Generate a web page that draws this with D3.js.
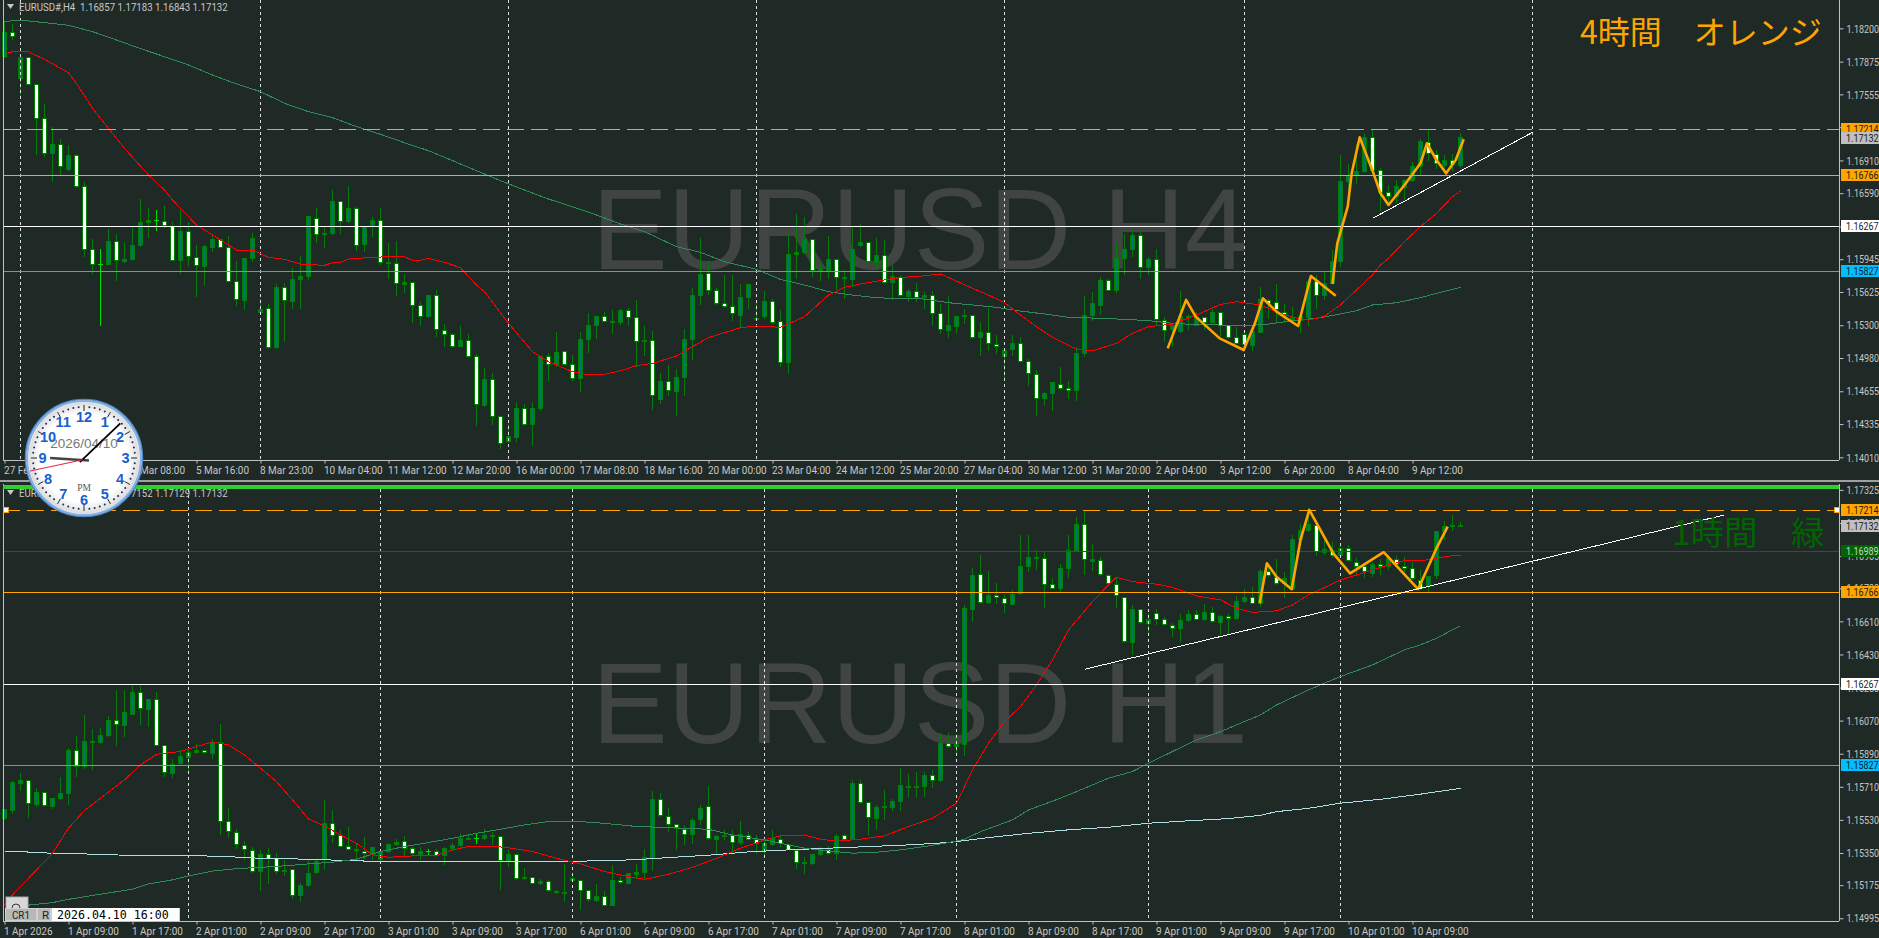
<!DOCTYPE html>
<html><head><meta charset="utf-8">
<style>html,body{margin:0;padding:0;background:#1f2925;overflow:hidden}svg{display:block}
text{font-family:"Roboto",sans-serif}</style>
<script src="https://cdn.jsdelivr.net/npm/d3@7/dist/d3.min.js"></script></head><body><div id="c"></div>
<script>
// All candle values are [open, high, low, close] in points (1 point = 0.00001)
const h4Candles=[[117923,118275,117917,118161],[118161,118249,118096,118119],[117712,117923,117549,117917],[117917,117923,117647,117653],[117650,117650,116963,117321],[117321,117468,116947,116979],[116979,117240,116702,117067],[117067,117126,116768,116855],[116823,117061,116816,116960],[116960,116979,116647,116654],
[116654,116702,115976,116041],[116041,116152,115801,115895],[115895,116051,115296,115895],[115895,116247,115889,116116],[116116,116198,115735,115928],[115921,116116,115915,115944],[115944,116263,115937,116077],[116077,116540,116074,116305],[116305,116452,116159,116328],[116325,116432,116224,116325],
[116312,116465,116253,116279],[116263,116312,115931,115937],[115937,116432,115807,116214],[116214,116312,115879,115967],[115960,116084,115579,115879],[115872,116084,115687,116068],[116061,116198,116019,116139],[116133,116139,116055,116061],[116055,116178,115726,115732],[115732,115937,115494,115547],
[115540,115963,115449,115954],[115954,116208,115921,116149],[115423,115563,115416,115449],[115462,115514,115074,115084],[115078,115709,115071,115670],[115667,115716,115140,115537],[115530,115866,115459,115748],[115748,115986,115465,115778],[115775,116361,115748,116361],[116341,116452,116107,116191],
[116185,116263,116055,116198],[116195,116628,116191,116510],[116510,116523,116198,116315],[116312,116667,116305,116442],[116442,116458,116028,116081],[116090,116263,116019,116256],[116263,116361,116165,116328],[116322,116452,115895,115911],[115901,116113,115761,115915],[115901,116123,115595,115709],
[115700,115807,115621,115719],[115719,115726,115325,115494],[115494,115530,115302,115390],[115384,115605,115377,115592],[115592,115651,115188,115254],[115247,115319,115097,115211],[115211,115228,115084,115091],[115097,115293,115091,115153],[115153,115215,114987,114993],[114993,115026,114316,114528],
[114521,114889,114505,114772],[114772,114843,114326,114407],[114407,114407,114098,114147],[114163,114342,114156,114218],[114205,114560,114169,114488],[114488,114531,114316,114332],[114332,114554,114124,114488],[114488,115009,114472,114999],[114993,115035,114765,114912],[114912,115237,114895,115035],
[115042,115052,114912,114918],[114912,115019,114765,114781],[114781,115237,114651,115162],[115156,115423,115032,115296],[115296,115400,115166,115384],[115384,115433,115335,115341],[115325,115449,115221,115338],[115325,115465,115312,115442],[115442,115475,115293,115377],[115374,115547,114895,115140],
[115140,115293,115009,115153],[115149,115244,114479,114615],[114570,114837,114531,114749],[114749,114912,114618,114661],[114651,114879,114417,114791],[114791,115270,114612,115162],[115162,115670,114970,115592],[115592,116159,115498,115797],[115801,115931,115605,115644],[115638,115670,115507,115514],
[115511,115797,115475,115481],[115481,115791,115345,115410],[115394,115703,115286,115573],[115573,115709,115465,115700],[115358,115547,115351,115368],[115384,115638,115368,115534],[115530,115563,115319,115328],[115335,115455,114895,114938],[114938,116198,114830,115993],[115990,116393,115752,116012],
[116012,116367,116002,116136],[116136,116149,115775,115836],[115833,115905,115742,115840],[115833,116172,115758,115944],[115944,115954,115651,115768],[115765,115840,115563,115752],[115748,116263,115677,116041],[116077,116295,116074,116107],[116107,116116,115911,115918],[115915,116159,115846,115980],
[115980,116139,115713,115719],[115716,115889,115547,115775],[115768,115791,115579,115586],[115579,115661,115530,115628],[115628,115719,115530,115573],[115573,115628,115465,115589],[115589,115644,115302,115416],[115413,115514,115221,115254],[115250,115586,115179,115296],[115286,115400,115221,115384],
[115384,115465,115319,115397],[115394,115400,115172,115182],[115182,115335,115003,115231],[115228,115475,115052,115117],[115110,115205,115026,115097],[114993,115058,114781,115052],[115065,115205,115009,115123],[115117,115195,114944,114948],[114944,114977,114716,114824],[114817,114869,114417,114586],
[114586,114651,114521,114635],[114635,114755,114466,114739],[114726,114902,114677,114684],[114680,114758,114586,114667],[114661,115097,114563,115026],[115026,115586,114993,115394],[115394,115628,115351,115514],[115491,115775,115416,115735],[115735,115758,115635,115644],[115635,116100,115618,115954],
[115954,116198,115791,116041],[116041,116247,115976,116178],[116175,116230,115755,115866],[115862,115976,115791,115944],[115941,116051,115302,115358],[115351,115384,115140,115244],[115254,115319,115091,115302],[115237,115635,115231,115384],[115377,115416,115254,115390],[115302,115433,115293,115374],
[115374,115390,115254,115325],[115325,115465,115319,115426],[115423,115433,115188,115302],[115296,115302,115175,115182],[115182,115286,115117,115123],[115208,115221,115058,115110],[115107,115254,115052,115237],[115231,115683,115228,115547],[115537,115563,115368,115514],[115520,115709,115335,115449],
[115429,115514,115325,115400],[115358,115481,115351,115368],[115351,115416,115228,115384],[115377,115758,115293,115726],[115726,115791,115465,115595],[115589,115823,115553,115709],[115709,116041,115703,115924],[115921,116963,115872,116702],[116702,116882,116523,116758],[116764,117077,116680,116803],
[116803,117175,116794,117136],[117136,117214,116810,116816],[116810,116842,116419,116598],[116595,116670,116468,116562],[116556,116719,116501,116654],[116647,116735,116533,116712],[116715,116895,116709,116849],[116849,117126,116768,117093],[117087,117224,116914,116973],[116963,117018,116833,116882],
[116865,116963,116816,116911],[116908,116979,116800,116872],[116857,117183,116843,117132]];
const h1Candles=[[115539,115584,115533,115584],[115581,115742,115566,115735],[115727,115787,115689,115742],[115746,115748,115543,115617],[115613,115708,115602,115680],[115679,115684,115602,115606],[115602,115653,115593,115648],[115646,115766,115642,115675],[115675,115925,115615,115909],[115907,115987,115766,115820],
[115818,116105,115811,115956],[115950,116029,115802,115956],[115950,116032,115947,115989],[115989,116096,115983,116070],[116068,116237,115934,116047],[116045,116237,115983,116116],[116103,116261,116101,116224],[116222,116261,116047,116137],[116132,116186,116038,116186],[116184,116228,115932,115936],
[115934,115941,115766,115786],[115784,115865,115760,115831],[115836,115914,115833,115876],[115871,115911,115798,115898],[115896,115943,115889,115909],[115905,115911,115889,115894],[115893,115974,115862,115952],[115952,116056,115448,115524],[115521,115599,115434,115466],[115459,115485,115372,115394],
[115390,115416,115312,115367],[115363,115385,115244,115251],[115251,115367,115146,115341],[115340,115380,115185,115321],[115318,115354,115240,115252],[115249,115312,115225,115256],[115262,115267,115104,115120],[115120,115191,115086,115173],[115173,115312,115169,115238],[115245,115312,115240,115303],
[115312,115639,115262,115512],[115510,115584,115408,115446],[115443,115476,115385,115388],[115388,115494,115367,115370],[115367,115407,115321,115361],[115358,115439,115318,115345],[115340,115385,115316,115381],[115312,115367,115309,115358],[115358,115407,115354,115398],[115398,115427,115392,115408],
[115410,115447,115336,115376],[115374,115385,115334,115349],[115341,115385,115312,115358],[115358,115376,115340,115358],[115356,115376,115330,115336],[115336,115385,115285,115376],[115372,115407,115363,115390],[115390,115461,115385,115427],[115425,115448,115421,115430],[115427,115454,115399,115427],
[115427,115485,115421,115445],[115439,115466,115394,115445],[115439,115445,115149,115307],[115307,115376,115276,115340],[115340,115349,115204,115209],[115209,115272,115204,115218],[115216,115222,115182,115185],[115182,115213,115178,115195],[115193,115207,115140,115144],[115140,115153,115131,115133],
[115131,115294,115086,115136],[115203,115231,115200,115210],[115198,115204,115040,115147],[115145,115149,115086,115095],[115091,115182,115086,115113],[115113,115144,115062,115066],[115066,115285,115062,115200],[115198,115222,115182,115187],[115185,115244,115182,115240],[115234,115294,115213,115244],
[115244,115372,115213,115327],[115325,115688,115254,115642],[115640,115680,115548,115552],[115548,115599,115466,115503],[115503,115503,115367,115485],[115476,115503,115394,115452],[115448,115543,115399,115528],[115530,115612,115503,115593],[115602,115715,115425,115430],[115425,115448,115349,115439],
[115439,115479,115421,115445],[115445,115476,115352,115408],[115408,115525,115398,115452],[115447,115466,115421,115425],[115421,115448,115349,115403],[115363,115439,115340,115403],[115394,115476,115390,115427],[115421,115448,115385,115403],[115394,115403,115367,115370],[115363,115370,115265,115300],
[115294,115330,115238,115300],[115291,115349,115285,115341],[115341,115385,115336,115376],[115367,115390,115340,115349],[115349,115457,115312,115439],[115443,115457,115421,115425],[115425,115751,115421,115729],[115728,115751,115621,115626],[115624,115630,115448,115543],[115539,115612,115479,115599],
[115596,115697,115530,115602],[115599,115648,115581,115631],[115631,115817,115581,115717],[115706,115784,115653,115711],[115706,115793,115653,115711],[115711,115793,115657,115771],[115769,115802,115706,115747],[115744,116005,115738,115947],[115943,116005,115925,115929],[115929,116001,115896,115945],
[115941,116699,115880,116681],[116676,116904,116609,116859],[116864,116971,116708,116714],[116712,116884,116708,116752],[116750,116823,116705,116737],[116734,116754,116658,116705],[116703,116781,116699,116757],[116759,117085,116756,116908],[116908,117080,116881,116959],[116951,117000,116893,116957],
[116951,116989,116685,116808],[116808,116850,116786,116790],[116788,116926,116772,116899],[116897,117080,116850,116997],[116998,117180,116995,117138],[117136,117212,116863,116944],[116937,117031,116886,116944],[116940,116962,116859,116863],[116857,116872,116808,116814],[116812,116850,116685,116748],
[116739,116745,116494,116500],[116496,116703,116427,116672],[116672,116681,116600,116605],[116600,116658,116545,116621],[116650,116678,116591,116621],[116618,116636,116587,116591],[116587,116605,116527,116569],[116569,116654,116500,116614],[116614,116672,116609,116647],[116645,116672,116618,116621],
[116618,116708,116614,116658],[116658,116690,116605,116609],[116605,116645,116536,116636],[116636,116654,116545,116627],[116627,116748,116621,116717],[116717,116790,116714,116741],[116741,116799,116705,116708],[116708,116899,116690,116881],[116881,116926,116854,116857],[116850,116950,116812,116817],
[116817,116881,116741,116844],[116784,117080,116781,117053],[117053,117143,117044,117104],[117104,117230,117098,117138],[117134,117165,116966,116989],[116984,117053,116971,117002],[116998,117044,116959,116966],[116966,117026,116962,117008],[117004,117026,116935,116939],[116931,116959,116872,116911],
[116908,116922,116850,116881],[116872,116935,116854,116917],[116917,116953,116863,116908],[116908,116971,116890,116953],[116949,116968,116908,116920],[116911,116962,116863,116899],[116895,116935,116839,116844],[116832,116893,116784,116790],[116799,116862,116772,116853],[116859,117104,116844,117098],
[117098,117156,117056,117125],[117125,117189,117104,117134],[117130,117152,117129,117132]];

// Moving averages read at selected bars
const h4RedBars=[0,1,3,5,8,9,11,13,15,18,20,21,24,26,28,29,31,33,35,37,40,41,42,43,46,48,50,51,52,53,55,57,59,60,63,66,68,71,73,75,77,79,81,84,86,88,90,92,94,97,100,103,105,107,110,112,114,117,121,123,125,127,129,131,134,136,139,141,143,146,149,152,154,157,159,161,163,165,167,169,171,172,173,175,177,179,181,182];
const h4RedVals=[117946,117972,117972,117897,117767,117663,117419,117223,117028,116768,116621,116523,116279,116182,116084,116035,116035,115963,115944,115898,115885,115911,115915,115947,115963,115970,115970,115934,115934,115954,115915,115862,115693,115628,115319,115042,114944,114847,114814,114821,114856,114905,114928,114999,115091,115179,115228,115276,115293,115280,115384,115595,115670,115703,115742,115768,115775,115801,115661,115595,115520,115400,115286,115182,115065,115052,115123,115221,115286,115312,115400,115504,115530,115498,115433,115377,115351,115390,115498,115644,115791,115889,115954,116116,116263,116393,116556,116611];
const h4GreenBars=[0,1,3,5,8,11,14,17,20,23,26,29,32,35,38,41,44,47,50,53,56,59,62,65,68,71,74,77,80,84,87,90,94,97,100,103,106,109,112,115,118,121,124,127,130,133,137,140,143,146,149,152,155,158,161,164,167,169,171,174,177,179,181,182];
const h4GreenVals=[118265,118275,118272,118256,118230,118168,118086,118002,117923,117842,117744,117657,117582,117468,117386,117328,117240,117165,117083,117005,116908,116810,116712,116621,116533,116458,116377,116289,116214,116068,116012,115921,115846,115748,115693,115628,115595,115569,115560,115556,115520,115498,115475,115439,115410,115377,115368,115358,115345,115319,115306,115302,115293,115312,115345,115368,115410,115442,115498,115520,115569,115612,115651,115670];
const h4ZigA_Bars=[145.4,147.7,148.9,151.9,154.9,156.3,157.3,159,161.7,163.3,166.4];
const h4ZigA_Vals=[115074,115547,115384,115172,115058,115319,115563,115433,115293,115781,115589];
const h4ZigB_Bars=[166,166.6,167.9,168.4,169.4,171,172,173,175,177,177.8,179,180.2,181.4,182.4];
const h4ZigB_Vals=[115703,116100,116458,116784,117136,116810,116589,116475,116670,116882,117077,116914,116784,116914,117116];
const h4TrendBars=[171,191], h4TrendVals=[116344,117184];

const h1RedBars=[0,1,4,6,8,10,12,15,17,19,22,24,26,28,30,32,34,36,38,40,42,44,46,48,51,54,56,58,61,63,66,69,72,75,78,80,83,86,89,92,95,97,100,102,104,107,110,113,116,118,119,121,123,125,127,129,131,133,136,138,139,141,144,146,149,152,154,156,159,161,163,165,167,169,171,173,175,177,179,181,182];
const h1RedVals=[115068,115122,115258,115349,115485,115581,115648,115748,115829,115887,115902,115929,115954,115938,115883,115811,115738,115639,115535,115497,115448,115403,115340,115327,115334,115338,115367,115385,115388,115378,115358,115321,115291,115249,115222,115207,115234,115272,115321,115376,115421,115443,115448,115425,115414,115425,115443,115494,115539,115593,115621,115802,115947,116065,116146,116264,116400,116563,116717,116808,116850,116826,116812,116795,116748,116727,116681,116659,116667,116699,116754,116794,116835,116862,116890,116917,116940,116939,116953,116968,116968];
const h1GreenBars=[2,4,6,8,12,16,18,21,23,26,29,32,35,38,41,44,47,50,53,56,59,62,65,68,71,74,77,79,82,88,91,95,98,100,103,106,109,112,115,118,120,122,126,128,132,135,138,141,143,146,149,152,155,157,159,163,167,171,175,177,179,182];
const h1GreenVals=[115062,115071,115080,115098,115126,115153,115182,115204,115225,115252,115265,115272,115280,115291,115300,115316,115358,115385,115407,115430,115457,115479,115503,115521,115523,115515,115503,115494,115490,115479,115448,115421,115394,115376,115361,115349,115354,115367,115385,115407,115425,115466,115530,115584,115648,115702,115757,115793,115838,115902,115965,116010,116065,116101,116155,116237,116310,116373,116455,116482,116518,116587];
const h1SlowBars=[0,2,4,6,10,15,19,25,28,31,34,38,44,47,54,62,71,76,79,83,88,93,98,103,108,113,118,123,128,133,138,143,148,153,157,159,163,167,172,177,182];
const h1SlowVals=[115358,115358,115352,115349,115345,115338,115336,115334,115330,115323,115320,115316,115307,115305,115305,115305,115305,115309,115314,115325,115338,115356,115367,115376,115385,115394,115407,115434,115457,115476,115490,115512,115525,115537,115555,115575,115593,115621,115642,115670,115702];
const h1ZigBars=[156.9,157.8,159,160.9,162,163.1,166.1,168.2,172.4,176.7,179,180.4];
const h1ZigVals=[116708,116926,116853,116785,117053,117216,116980,116871,116986,116785,117008,117125];
const h1TrendBars=[135,215], h1TrendVals=[116349,117189];

// Horizontal levels
const h4Levels=[117214,116766,116267,115827];
const h1Levels=[117214,116989,116766,116267,115827];
const currentPrice=117132;
// Price axis ticks
const h4Ticks=[118200,117875,117555,117235,116910,116590,116265,115945,115625,115300,114980,114655,114335,114010];
const h1Ticks=[117325,117145,116965,116790,116610,116430,116250,116070,115890,115710,115530,115350,115175,114995];
// Time axis
const h4TimeLabels=["27 Feb 2026","3 Mar 00:00","4 Mar 08:00","5 Mar 16:00","8 Mar 23:00","10 Mar 04:00","11 Mar 12:00","12 Mar 20:00","16 Mar 00:00","17 Mar 08:00","18 Mar 16:00","20 Mar 00:00","23 Mar 04:00","24 Mar 12:00","25 Mar 20:00","27 Mar 04:00","30 Mar 12:00","31 Mar 20:00","2 Apr 04:00","3 Apr 12:00","6 Apr 20:00","8 Apr 04:00","9 Apr 12:00"];
const h1TimeLabels=["1 Apr 2026","1 Apr 09:00","1 Apr 17:00","2 Apr 01:00","2 Apr 09:00","2 Apr 17:00","3 Apr 01:00","3 Apr 09:00","3 Apr 17:00","6 Apr 01:00","6 Apr 09:00","6 Apr 17:00","7 Apr 01:00","7 Apr 09:00","7 Apr 17:00","8 Apr 01:00","8 Apr 09:00","8 Apr 17:00","9 Apr 01:00","9 Apr 09:00","9 Apr 17:00","10 Apr 01:00","10 Apr 09:00"];
const h4Verticals=[2,32,63,94,125,155,191];
const h1Verticals=[23,47,71,95,119,143,167,191];
const clockTime=[21,7,43]; // hour, minute, second shown on the clock

const W=1879,H=938,BG="#1f2925";
const svg=d3.select("#c").append("svg").attr("width",W).attr("height",H);
svg.append("rect").attr("width",W).attr("height",H).attr("fill",BG);
const xScale=d3.scaleLinear().domain([0,191]).range([4.5,1532.5]);
const levelColor={117214:"#ffa500",116989:"#067006",116766:"#ffa500",116267:"#ffffff",115827:"#1eb4e6"};
const tagFill={117214:"#ffa500",116989:"#006400",116766:"#ffa500",116267:"#ffffff",115827:"#00bfff"};
const tagText={116989:"#c8d8c8"};
// squeeze Roboto to the narrow width of the platform's UI font
const narrow=(sel,r)=>sel.each(function(){this.setAttribute("textLength",(this.getComputedTextLength()*r).toFixed(1));this.setAttribute("lengthAdjust","spacingAndGlyphs");});

function drawPane(o){
  const y=d3.scaleLinear().domain(o.domain).range(o.range);
  const g=svg.append("g");
  const px=v=>Math.floor(y(v))+.5;
  // watermark
  g.append("text").attr("x",592).attr("y",o.wmY).attr("font-size",115).attr("textLength",656).attr("lengthAdjust","spacingAndGlyphs")
    .style("font-family",'"Liberation Sans",Arial,sans-serif').attr("fill","#404543").text(o.wm);
  // candles
  const c=g.append("g");
  c.selectAll("line").data(o.candles).join("line")
    .attr("x1",(d,i)=>xScale(i)).attr("x2",(d,i)=>xScale(i))
    .attr("y1",d=>px(d[1])).attr("y2",d=>px(d[2])+.5)
    .attr("stroke",d=>d[0]===d[3]?"#00e000":"#067a06").attr("stroke-width",1).attr("shape-rendering","crispEdges");
  c.selectAll("rect").data(o.candles.map((d,i)=>({d,i})).filter(e=>e.d[0]!==e.d[3])).join("rect")
    .attr("x",e=>xScale(e.i)-2).attr("width",4)
    .attr("y",e=>px(Math.max(e.d[0],e.d[3])))
    .attr("height",e=>Math.max(1,px(Math.min(e.d[0],e.d[3]))-px(Math.max(e.d[0],e.d[3]))))
    .attr("fill",e=>e.d[3]>e.d[0]?"#00736b":"#ffffff").attr("stroke","#008000").attr("stroke-width",1).attr("shape-rendering","crispEdges");
  c.selectAll("line.d").data(o.candles.map((d,i)=>({d,i})).filter(e=>e.d[0]===e.d[3])).join("line").attr("class","d")
    .attr("x1",e=>xScale(e.i)-2.5).attr("x2",e=>xScale(e.i)+2.5).attr("y1",e=>px(e.d[0])).attr("y2",e=>px(e.d[0]))
    .attr("stroke","#00e000").attr("shape-rendering","crispEdges");
  // vertical separators
  g.selectAll("line.v").data(o.verticals).join("line").attr("class","v")
    .attr("x1",d=>xScale(d)).attr("x2",d=>xScale(d)).attr("y1",o.vTop).attr("y2",o.axisY)
    .attr("stroke","#dcdcdc").attr("stroke-dasharray","3,3").attr("shape-rendering","crispEdges");
  // moving averages
  const line=d3.line().x(d=>xScale(d[0])).y(d=>y(d[1]));
  o.mas.forEach(m=>g.append("path").attr("d",line(d3.zip(m.bars,m.vals))).attr("fill","none").attr("stroke",m.color).attr("stroke-width",1).attr("shape-rendering","crispEdges"));
  // levels
  o.levels.forEach(l=>g.append("line").attr("x1",3).attr("x2",1839).attr("y1",px(l)).attr("y2",px(l))
    .attr("stroke",levelColor[l]).attr("stroke-width",1).attr("stroke-dasharray",l===117214?"17,7":null).attr("shape-rendering","crispEdges"));
  // zigzags and trend line
  o.zigs.forEach(m=>g.append("path").attr("d",line(d3.zip(m.bars,m.vals))).attr("fill","none").attr("stroke","#ffa500").attr("stroke-width",2.6).attr("stroke-linejoin","round"));
  g.append("path").attr("d",line(d3.zip(o.trendBars,o.trendVals))).attr("fill","none").attr("stroke","#ffffff").attr("stroke-width",1).attr("shape-rendering","crispEdges");
  // price axis
  const ya=g.append("g").attr("transform",`translate(1839.5,0)`).call(d3.axisRight(y).tickValues(o.ticks).tickSize(4).tickPadding(3).tickFormat(d=>(d/1e5).toFixed(5)));
  ya.select(".domain").attr("d",`M0,${o.top}V${o.axisY}`).attr("stroke","#c0c0c0");
  ya.selectAll("line").attr("stroke","#c0c0c0");
  ya.selectAll("text").attr("fill","#c8c8c8").attr("font-size",11.5).style("font-family","Roboto,sans-serif").call(narrow,.78);
  // price tags
  const tags=o.levels.concat([currentPrice]);
  tags.forEach(l=>{
    const yy=Math.floor(y(l));
    g.append("rect").attr("x",1841).attr("y",yy-(l===currentPrice?5:6)).attr("width",38).attr("height",12).attr("fill",l===currentPrice?"#c0c0c0":tagFill[l]);
    g.append("text").attr("x",1846).attr("y",yy+4+(l===currentPrice?1:0)).attr("fill",tagText[l]||"#1a1a1a").attr("font-size",11.5).text((l/1e5).toFixed(5)).call(narrow,.78);
  });
  // time axis
  const tickBars=o.timeLabels.map((d,i)=>i*8);
  const xa=g.append("g").attr("transform",`translate(0,${o.axisY+.5})`).call(d3.axisBottom(xScale).tickValues(tickBars).tickSize(3).tickPadding(2).tickFormat((d,i)=>o.timeLabels[i]));
  xa.select(".domain").attr("d",`M3,0H1839`).attr("stroke","#c0c0c0");
  xa.selectAll("line").attr("stroke","#c0c0c0");
  xa.selectAll("text").attr("fill","#c8c8c8").attr("font-size",11.5).attr("text-anchor","start").attr("x",-1).style("font-family","Roboto,sans-serif").call(narrow,.87);
  // left frame
  g.append("line").attr("x1",3.5).attr("x2",3.5).attr("y1",o.top).attr("y2",o.axisY).attr("stroke","#c0c0c0").attr("stroke-width",1);
  // header
  g.append("path").attr("d",`M7,${o.hdrY-3}h7l-3.5,5z`).attr("fill","#c8c8c8");
  g.append("text").attr("x",19).attr("y",o.hdrY+4).attr("fill","#c8c8c8").attr("font-size",11.5).attr("xml:space","preserve").text(o.header).call(narrow,.84);
  // big label
  g.append("text").attr("x",o.labelX).attr("y",o.labelY).attr("fill",o.labelColor).attr("font-size",o.labelSize).style("font-family",'"Noto Sans CJK JP",sans-serif').text(o.label);
  return y;
}

// separator between panes
svg.append("rect").attr("x",0).attr("y",480).attr("width",W).attr("height",2).attr("fill","#a0a0a0");

// top pane: 1.17214 at y 129.3, 1.15827 at y 271.3
drawPane({domain:[117214,115827],range:[129.3,271.3],candles:h4Candles,verticals:h4Verticals,vTop:0,top:0,axisY:460,
  mas:[{bars:h4GreenBars,vals:h4GreenVals,color:"#2e8b57"},{bars:h4RedBars,vals:h4RedVals,color:"#ff0000"}],
  levels:h4Levels,zigs:[{bars:h4ZigA_Bars,vals:h4ZigA_Vals},{bars:h4ZigB_Bars,vals:h4ZigB_Vals}],trendBars:h4TrendBars,trendVals:h4TrendVals,
  ticks:h4Ticks,timeLabels:h4TimeLabels,wm:"EURUSD H4",wmY:269,hdrY:7,header:"EURUSD#,H4  1.16857 1.17183 1.16843 1.17132",
  label:"4時間　オレンジ",labelX:1580,labelY:44,labelSize:32,labelColor:"#ffa500"});
// bottom pane: 1.17214 at y 510.3, 1.15827 at y 765.3
drawPane({domain:[117214,115827],range:[510.3,765.3],candles:h1Candles,verticals:h1Verticals,vTop:489,top:484,axisY:921,
  mas:[{bars:h1SlowBars,vals:h1SlowVals,color:"#b0e0e6"},{bars:h1GreenBars,vals:h1GreenVals,color:"#2e8b57"},{bars:h1RedBars,vals:h1RedVals,color:"#ff0000"}],
  levels:h1Levels,zigs:[{bars:h1ZigBars,vals:h1ZigVals}],trendBars:h1TrendBars,trendVals:h1TrendVals,
  ticks:h1Ticks,timeLabels:h1TimeLabels,wm:"EURUSD H1",wmY:743,hdrY:493,header:"EURUSD#,H1  1.17130 1.17152 1.17129 1.17132",
  label:"1時間　緑",labelX:1672,labelY:545,labelSize:33.5,labelColor:"#006400"});
// green band and drag handles on the H1 pane
svg.append("rect").attr("x",3).attr("y",485).attr("width",1836).attr("height",4).attr("fill","#32cd32");
[[6,510],[1837,510]].forEach(p=>svg.append("rect").attr("x",p[0]-2.5).attr("y",p[1]-2.5).attr("width",5).attr("height",5).attr("fill","#fff").attr("stroke","#ffa500").attr("stroke-width",1));

// bottom-left controls
const ui=svg.append("g");
ui.append("rect").attr("x",6).attr("y",897).attr("width",22).attr("height",12).attr("fill","#d8d8d8").attr("stroke","#a8a8a8");
ui.append("circle").attr("cx",16).attr("cy",908).attr("r",4).attr("fill","none").attr("stroke","#333");
ui.append("rect").attr("x",5).attr("y",908).attr("width",175).attr("height",13).attr("fill","#d0d0d0");
ui.append("rect").attr("x",6).attr("y",909).attr("width",30).attr("height",11).attr("fill","#b8b8b8");
ui.append("rect").attr("x",38).attr("y",909).attr("width",12).attr("height",11).attr("fill","#b8b8b8");
ui.append("text").attr("x",12).attr("y",919).attr("font-size",11.5).attr("fill","#222").text("CR1").call(narrow,.85);
ui.append("text").attr("x",42).attr("y",919).attr("font-size",11.5).attr("fill","#222").text("R");
ui.append("rect").attr("x",52).attr("y",908).attr("width",127).attr("height",13).attr("fill","#fff");
ui.append("text").attr("x",57).attr("y",919).attr("font-size",11.6).style("font-family",'"DejaVu Sans Mono",monospace').attr("fill","#000").text("2026.04.10 16:00");

// clock
const clk=svg.append("g").attr("transform","translate(84,458)");
const defs=svg.append("defs");
const face=defs.append("radialGradient").attr("id","face");
face.append("stop").attr("offset","0.8").attr("stop-color","#ffffff");
face.append("stop").attr("offset","1").attr("stop-color","#dcdcdc");
clk.append("circle").attr("r",58.5).attr("fill","#e8eef6").attr("stroke","#4f86c8").attr("stroke-width",1.5);
clk.append("circle").attr("r",57).attr("fill","none").attr("stroke","#86b0e0").attr("stroke-width",2);
clk.append("circle").attr("r",55.5).attr("fill","url(#face)");
const angle=d3.scaleLinear().domain([0,60]).range([0,2*Math.PI]);
d3.range(60).forEach(m=>{
  const a=angle(m),s=Math.sin(a),c=-Math.cos(a);
  if(m%5===0) clk.append("line").attr("x1",s*47).attr("y1",c*47).attr("x2",s*53).attr("y2",c*53).attr("stroke","#222").attr("stroke-width",1);
  else clk.append("circle").attr("cx",s*51).attr("cy",c*51).attr("r",1).attr("fill","#1c2a5a");
});
d3.range(1,13).forEach(h=>{
  const a=angle(h*5);
  clk.append("text").attr("x",Math.sin(a)*41.5).attr("y",-Math.cos(a)*41.5+5.2).attr("text-anchor","middle").attr("font-size",14.5).attr("font-weight","bold")
    .style("font-family",'"Liberation Sans",sans-serif').attr("fill","#1560d0").text(h);
});
clk.append("text").attr("y",-10).attr("text-anchor","middle").attr("font-size",13.5).style("font-family",'"Liberation Sans",sans-serif').attr("fill","#777").text("2026/04/10");
clk.append("text").attr("y",33).attr("text-anchor","middle").attr("font-size",9.5).style("font-family",'"Liberation Serif",serif').attr("fill","#555").text("PM");
const hourA=angle(((clockTime[0]%12)+clockTime[1]/60)*5), minA=angle(clockTime[1]+clockTime[2]/60), secA=angle(clockTime[2]);
const hand=(a,len,back,col,w)=>clk.append("line").attr("x1",-2-Math.sin(a)*back).attr("y1",2+Math.cos(a)*back).attr("x2",-2+Math.sin(a)*len).attr("y2",2-Math.cos(a)*len).attr("stroke",col).attr("stroke-width",w);
hand(hourA,32,7,"#444",2.4);
hand(minA,53,3,"#000",1.8);
hand(secA,53,1,"#e8284a",1.1);
</script></body></html>
